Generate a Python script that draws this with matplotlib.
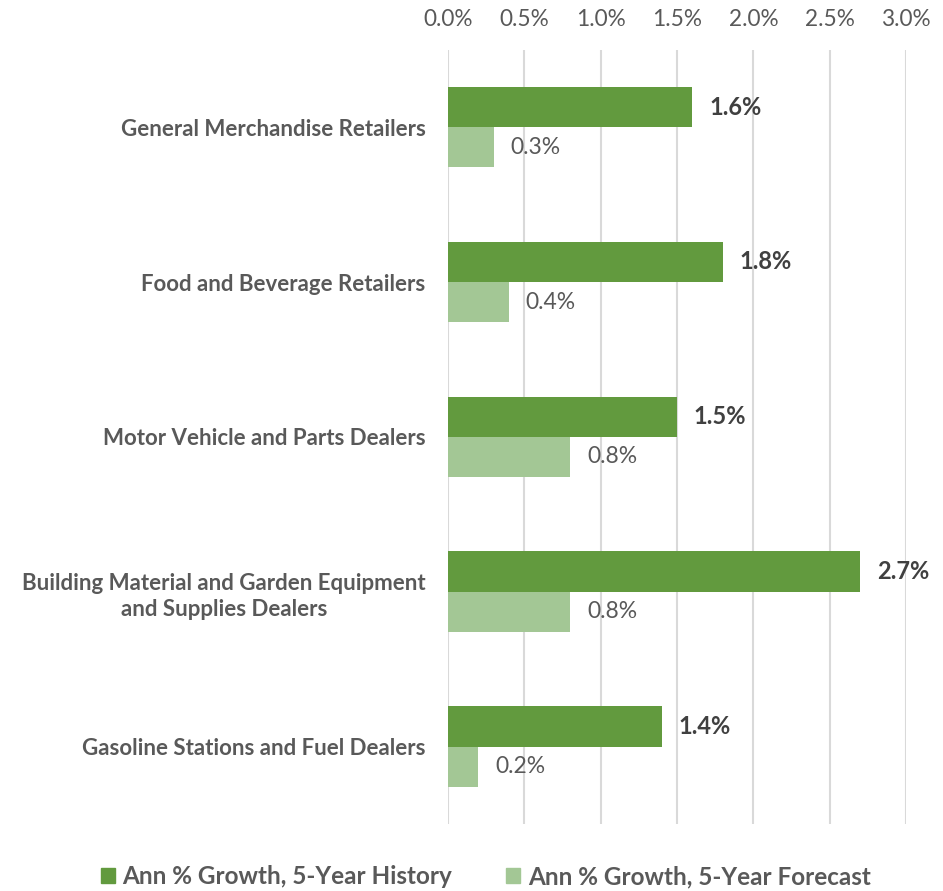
import numpy as np
import matplotlib
matplotlib.use("Agg")
import matplotlib.pyplot as plt
from matplotlib.patches import Patch

categories = ["General Merchandise Retailers",
              "Food and Beverage Retailers",
              "Motor Vehicle and Parts Dealers",
              "Building Material and Garden Equipment\nand Supplies Dealers",
              "Gasoline Stations and Fuel Dealers"]
history = [1.6, 1.8, 1.5, 2.7, 1.4]
forecast = [0.3, 0.4, 0.8, 0.8, 0.2]
ticks = [0.0, 0.5, 1.0, 1.5, 2.0, 2.5, 3.0]

DARK = "#629A3E"
LIGHT = "#A3C795"
GREY = "#595959"

plt.rcParams["font.family"] = ["Lato", "DejaVu Sans"]

fig = plt.figure(figsize=(9.43, 8.91), dpi=100)
ax = fig.add_axes([0.475, 0.0752, 0.486, 0.869])

y = np.arange(len(categories))
h = 0.26
ax.barh(y - h / 2, history, h, color=DARK)
ax.barh(y + h / 2, forecast, h, color=LIGHT)

for yi, v in zip(y, history):
    ax.text(v + 0.11, yi - h / 2, f"{v:.1f}%", va="center", ha="left",
            fontsize=17, fontweight="bold", color="#404040")
for yi, v in zip(y, forecast):
    ax.text(v + 0.11, yi + h / 2, f"{v:.1f}%", va="center", ha="left",
            fontsize=16.5, color=GREY)

ax.set_xlim(0, 3.0)
ax.set_ylim(len(categories) - 0.5, -0.5)
ax.set_xticks(ticks)
ax.set_xticklabels([f"{t:.1f}%" for t in ticks], fontsize=16.3, color=GREY)
ax.xaxis.tick_top()
ax.tick_params(axis="x", length=0, pad=14.5)
ax.set_yticks(y)
ax.set_yticklabels(categories, fontsize=16, fontweight="bold", color=GREY,
                   multialignment="center", linespacing=1.3)
ax.tick_params(axis="y", length=0, pad=16)
ax.grid(axis="x", color="#D9D9D9", lw=1.5)
ax.set_axisbelow(True)
for s in ax.spines.values():
    s.set_visible(False)

handles = [Patch(color=DARK, label="Ann % Growth, 5-Year History"),
           Patch(color=LIGHT, label="Ann % Growth, 5-Year Forecast")]
fig.legend(handles=handles, loc="center", bbox_to_anchor=(0.515, 0.016),
           ncol=2, frameon=False, handlelength=0.6, handleheight=0.6,
           handletextpad=0.3, columnspacing=2.2,
           prop={"size": 17.5, "weight": "bold"}, labelcolor=GREY)

fig.savefig("out.png", dpi=100)
